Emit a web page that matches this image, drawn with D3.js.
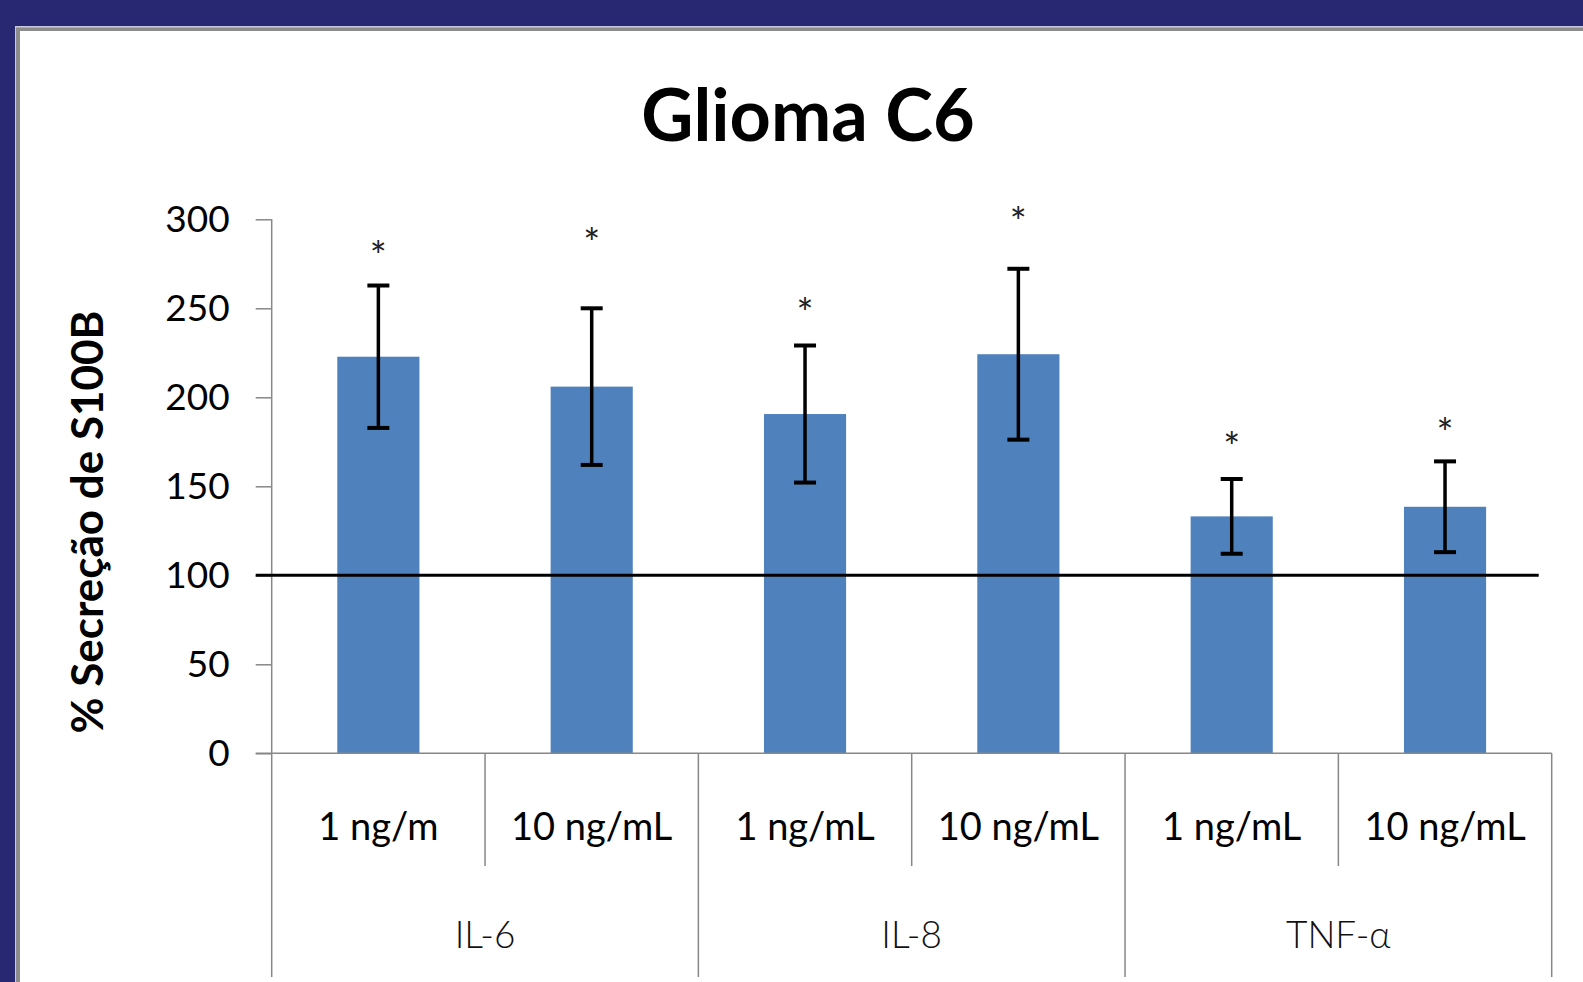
<!DOCTYPE html>
<html>
<head>
<meta charset="utf-8">
<script src="https://cdn.jsdelivr.net/npm/d3@7"></script>
<style>
  html, body { margin: 0; padding: 0; background: #282872; overflow: hidden; }
  svg { display: block; }
</style>
</head>
<body>
<svg id="chart" width="1583" height="982"></svg>
<script>
// ---- data ----
const title = "Glioma C6";
const yTitle = "% Secreção de S100B";
const groups = ["IL-6", "IL-8", "TNF-α"];
const doses = ["1 ng/m", "10 ng/mL", "1 ng/mL", "10 ng/mL", "1 ng/mL", "10 ng/mL"];
const doseGroup = [0, 0, 1, 1, 2, 2];
const values = [222.8, 206, 190.6, 224.2, 133.1, 138.5];
const errors = [40, 44, 38.5, 48, 21, 25.5];
const starLevels = [284.6, 291.7, 252.2, 303.3, 177.3, 184.8];
const yTicks = [0, 50, 100, 150, 200, 250, 300];
const baseline = 100;

// ---- layout ----
const W = 1583, H = 982;
const plotL = 271.7, plotR = 1551.7, plotT = 219.3, plotB = 753.3;
const FONT = "Lato, 'Open Sans', sans-serif";
const axisColor = "#878787";
const barColor = "#4F81BD";

const svg = d3.select("#chart");

// panel frame
svg.append("rect").attr("x", 0).attr("y", 0).attr("width", W).attr("height", H).attr("fill", "#282872");
svg.append("rect").attr("x", 15).attr("y", 26).attr("width", W).attr("height", H).attr("fill", "#c8c8dc");
svg.append("rect").attr("x", 16).attr("y", 27.5).attr("width", W).attr("height", H).attr("fill", "#8c8c8c");
svg.append("rect").attr("x", 20).attr("y", 31).attr("width", W).attr("height", H).attr("fill", "#ffffff");

const idx = d3.range(values.length);
const x = d3.scaleBand().domain(idx).range([plotL, plotR]).paddingInner(0.615).paddingOuter(0.3075);
const xCell = d3.scaleBand().domain(idx).range([plotL, plotR]).padding(0);
const y = d3.scaleLinear().domain([0, 300]).range([plotB, plotT]);

// title
svg.append("text").attr("x", 808).attr("y", 141)
  .attr("text-anchor", "middle").attr("font-family", FONT).attr("font-weight", 700)
  .attr("font-size", 72).attr("fill", "#000").text(title);

// y axis
const yAxis = d3.axisLeft(y).tickValues(yTicks).tickSize(16).tickPadding(26).tickFormat(d3.format("d"));
const ga = svg.append("g").attr("transform", `translate(${plotL},0)`).call(yAxis);
ga.select(".domain").remove();
ga.selectAll(".tick line").attr("stroke", axisColor).attr("stroke-width", 1.5);
ga.selectAll(".tick text").attr("font-family", FONT).attr("font-size", 37).attr("fill", "#000");
svg.append("line").attr("x1", plotL).attr("x2", plotL).attr("y1", plotT).attr("y2", 977)
  .attr("stroke", axisColor).attr("stroke-width", 1.5);

// y title
svg.append("text").attr("transform", `translate(103,522) rotate(-90)`)
  .attr("text-anchor", "middle").attr("font-family", FONT).attr("font-weight", 700)
  .attr("font-size", 44).attr("fill", "#000").text(yTitle);

// bars
svg.append("g").selectAll("rect").data(idx).join("rect")
  .attr("x", i => x(i)).attr("width", x.bandwidth())
  .attr("y", i => y(values[i])).attr("height", i => y(0) - y(values[i]))
  .attr("fill", barColor);

// x axis line
svg.append("line").attr("x1", plotL - 16).attr("x2", plotR).attr("y1", plotB).attr("y2", plotB)
  .attr("stroke", axisColor).attr("stroke-width", 1.5);

// baseline at 100
svg.append("line").attr("x1", plotL - 16).attr("x2", plotR - 13)
  .attr("y1", y(baseline)).attr("y2", y(baseline))
  .attr("stroke", "#000").attr("stroke-width", 3);

// error bars
const eg = svg.append("g").attr("stroke", "#000");
idx.forEach(i => {
  const cx = x(i) + x.bandwidth() / 2;
  const top = y(values[i] + errors[i]), bot = y(values[i] - errors[i]);
  eg.append("line").attr("x1", cx).attr("x2", cx).attr("y1", top).attr("y2", bot).attr("stroke-width", 3.5);
  [top, bot].forEach(yy => eg.append("line").attr("x1", cx - 11).attr("x2", cx + 11)
    .attr("y1", yy).attr("y2", yy).attr("stroke-width", 4));
});

// asterisks
svg.append("g").selectAll("text").data(idx).join("text")
  .attr("x", i => x(i) + x.bandwidth() / 2).attr("y", i => y(starLevels[i]))
  .attr("dy", "0.6em").attr("text-anchor", "middle")
  .attr("font-family", FONT).attr("font-size", 40).attr("fill", "#222").text("*");

// category table lines
const cellG = svg.append("g").attr("stroke", axisColor).attr("stroke-width", 1.5);
idx.forEach(i => {
  const xr = xCell(i) + xCell.bandwidth();
  const isGroupEnd = i === idx.length - 1 || doseGroup[i] !== doseGroup[i + 1];
  cellG.append("line").attr("x1", xr).attr("x2", xr).attr("y1", plotB).attr("y2", isGroupEnd ? 977 : 866);
});

// dose labels
svg.append("g").selectAll("text").data(idx).join("text")
  .attr("x", i => xCell(i) + xCell.bandwidth() / 2).attr("y", 840)
  .attr("text-anchor", "middle").attr("font-family", FONT).attr("font-size", 38).attr("fill", "#000")
  .text(i => doses[i]);

// group labels
svg.append("g").selectAll("text").data(groups).join("text")
  .attr("x", (g, gi) => {
    const members = idx.filter(i => doseGroup[i] === gi);
    return (xCell(members[0]) + xCell(members[members.length - 1]) + xCell.bandwidth()) / 2;
  })
  .attr("y", 948).attr("text-anchor", "middle").attr("font-family", FONT).attr("font-size", 37)
  .attr("font-weight", 300).attr("fill", "#111").text(g => g);
</script>
</body>
</html>
